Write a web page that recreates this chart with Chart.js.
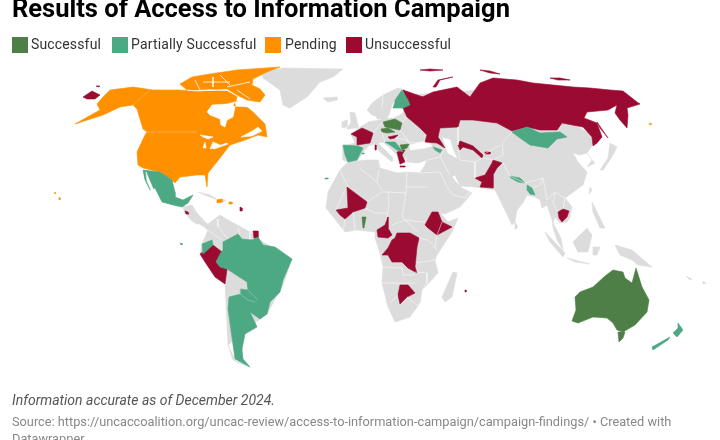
<!DOCTYPE html>
<html><head><meta charset="utf-8">
<script src="https://cdn.jsdelivr.net/npm/chart.js@4"></script>
<style>
html,body{margin:0;padding:0;background:#fff;overflow:hidden}
body{width:720px;height:440px;position:relative;font-family:Roboto,sans-serif}
canvas{position:absolute;left:0;top:0}
.t{position:absolute;white-space:nowrap}
#title{left:12px;top:-8px;font-size:25.5px;font-weight:700;color:#000;line-height:32px}
.sw{position:absolute;top:37px;width:16px;height:16px}
.lg{position:absolute;top:36px;font-size:14px;line-height:17px;color:#333;letter-spacing:.15px;white-space:nowrap}
#note{left:12px;top:391px;font-size:14px;font-style:italic;color:#555;line-height:18px}
#src{left:12px;top:413px;width:690px;white-space:normal;font-size:12.77px;color:#888;line-height:17px}
</style></head><body>
<canvas id="c" width="720" height="440"></canvas>
<div class="t" id="title">Results of Access to Information Campaign</div>
<div id="legend"></div>
<div class="t" id="note">Information accurate as of December 2024.</div>
<div class="t" id="src">Source: https://uncaccoalition.org/uncac-review/access-to-information-campaign/campaign-findings/ • Created with Datawrapper</div>
<script>
// Legend
const categories=["Successful","Partially Successful","Pending","Unsuccessful"];
const categoryColors=["#4d7f47","#4da884","#ff9000","#9b0a30"];
const noData="#dcdcdc";
// Map outlines, in map units
const eurasia=[[343,146],[343,160],[350,163],[357,161],[365,150],[368,146],[375,144],[380,152],[392,162],[393,158],[385,150],[378,143],[383,142],[390,148],[397,155],[400,165],[405,160],[407,152],[407,162],[418,163],[427,160],[425,165],[420,173],[423,182],[440,213],[445,214],[460,207],[472,193],[462,188],[457,183],[452,177],[455,175],[460,186],[475,187],[495,190],[500,200],[512,225],[515,222],[517,210],[523,203],[527,195],[535,197],[540,200],[542,208],[547,205],[552,220],[553,227],[557,240],[563,250],[561,238],[553,223],[555,217],[560,223],[567,222],[570,217],[572,207],[565,198],[572,193],[583,185],[587,172],[578,162],[573,153],[580,155],[587,153],[595,163],[587,167],[592,160],[587,153],[592,146],[593,137],[590,134],[575,125],[570,100],[480,90],[410,95],[405,108],[402,113],[392,118],[380,120],[368,122],[360,127],[351,134],[355,143]];
const scandinavia=[[367,110],[372,103],[383,95],[398,88],[405,90],[398,97],[392,105],[390,113],[385,122],[378,117],[372,115]];
const denmark=[[376,114],[380,113],[381,119],[377,119]];
const britain=[[350,112],[355,113],[358,125],[358,128],[347,129],[351,122]];
const ireland=[[342,122],[347,120],[347,127],[342,128]];
const iceland=[[323,98],[337,97],[337,100],[328,102]];
const greenland=[[262,72],[283,68],[343,69],[333,77],[320,82],[307,97],[290,108],[283,105],[280,90],[263,78]];
const africa=[[420,173],[423,180],[435,203],[442,215],[448,222],[458,218],[452,232],[437,255],[435,260],[438,273],[427,285],[422,290],[420,303],[410,317],[395,322],[388,307],[382,283],[383,267],[380,253],[375,238],[375,232],[357,230],[345,232],[330,213],[326,208],[328,192],[340,170],[348,162],[367,160],[378,160],[380,168],[397,173],[407,172]];
const madagascar=[[442,297],[453,272],[457,273],[452,297],[445,302]];
const southAmerica=[[197,222],[208,224],[220,215],[228,220],[250,232],[258,239],[292,259],[283,285],[267,314],[252,325],[228,345],[233,360],[250,367],[236,362],[228,345],[225,282],[200,254],[202,244],[208,230]];
const centralAmerica=[[183,207],[192,205],[197,213],[207,224],[197,224],[192,221],[185,213]];
const cuba=[[198,192],[210,195],[218,200],[207,196]];
const hispaniola=[[218,199],[226,200],[222,203],[218,202]];
const borneo=[[573,242],[587,228],[592,235],[588,252],[578,252]];
const sumatra=[[545,232],[565,253],[563,257],[550,242]];
const java=[[567,258],[590,264],[575,262]];
const sulawesi=[[593,247],[600,247],[597,255],[593,255]];
const papua=[[615,245],[632,250],[652,267],[638,265],[632,260],[620,255]];
const philippines=[[592,202],[596,210],[605,228],[600,228],[593,212]];
const japan=[[610,143],[617,147],[613,155],[603,170],[600,170],[608,158]];
const sriLanka=[[515,222],[518,227],[515,230]];
const taiwan=[[590,187],[592,190],[589,194]];
const solomon=[[686,276],[692,279],[690,280]];
const vanuatu=[[703,281],[706,283],[703,284]];
// Water cut out of the land
const blackSea=[[410,145],[427,141],[432,146],[425,148],[410,150]];
const caspian=[[443,138],[450,140],[453,150],[457,158],[448,153],[445,145]];
const hudsonBay=[[207,112],[212,105],[227,104],[235,102],[233,105],[235,107],[233,117],[227,120],[225,127],[221,125],[220,119],[210,115]];
const hudsonStrait=[[235,102],[247,104],[256,111],[248,107],[236,105]];
const superior=[[200,135],[213,137],[208,139],[203,137]];
const michigan=[[205,142],[206,148],[203,148]];
const huron=[[213,142],[220,145],[210,149]];
const erie=[[212,148],[227,143],[228,144],[214,149]];
const stLawrence=[[241,137],[254,130],[258,127],[262,131],[252,136]];
const gulfCalifornia=[[146,172],[154,191],[151,190],[147,181]];
const baltic=[[390,113],[392,108],[402,110],[402,113],[393,118]];
// Countries by result
const mainlandNA=[[110,90],[133,87],[153,90],[177,90],[197,91],[217,91],[227,91],[237,96],[235,107],[247,107],[253,112],[265,124],[267,137],[258,135],[245,140],[230,145],[220,158],[208,173],[207,187],[205,175],[197,175],[180,177],[175,183],[172,180],[160,172],[143,168],[138,165],[137,152],[145,135],[147,132],[143,129],[137,109],[133,105],[120,107],[103,115],[75,124],[100,110],[97,104],[103,97]];
const arctic=[[180,84],[192,77],[210,74],[237,70],[280,67],[267,72],[253,79],[252,85],[260,89],[265,95],[260,102],[247,100],[237,95],[227,89],[217,90],[210,89],[197,90],[187,90]];
const hawaiiA=[[54,192],[56,193],[55,194]];
const hawaiiB=[[59,197],[61,199],[59,200]];
const haiti=[[217,200],[222,199],[222,202],[217,203]];
const caribbean=[[229,202],[232,202],[232,204],[229,204]];
const aleutianFar=[[649,123],[652,124],[650,125]];
const russia=[[403,90],[423,97],[412,102],[433,92],[457,87],[470,97],[480,83],[493,78],[517,80],[533,83],[573,87],[590,88],[610,90],[623,91],[637,102],[640,104],[627,108],[628,115],[627,128],[620,120],[615,113],[617,105],[608,110],[587,112],[584,118],[597,123],[602,137],[597,143],[593,146],[592,137],[583,127],[562,123],[557,130],[540,130],[527,127],[512,131],[497,123],[473,120],[460,120],[458,127],[440,128],[438,137],[445,148],[437,143],[425,142],[427,135],[420,128],[413,122],[407,117],[403,108],[408,103]];
const chukotkaWest=[[83,97],[92,91],[100,95],[95,99],[87,99]];
const wrangel=[[96,86],[100,86],[99,87]];
const sakhalin=[[597,122],[608,138],[600,128]];
const novayaZemlya=[[433,87],[438,80],[453,77],[440,80],[436,87]];
const severnaya=[[480,70],[490,71],[500,74],[490,73]];
const franzJosef=[[420,70],[430,69],[443,70],[430,71]];
const newSiberia=[[550,78],[560,78],[570,80],[558,80]];
const france=[[351,134],[362,128],[373,133],[370,143],[357,145],[357,137]];
const corsica=[[375,145],[376,145],[376,150],[375,150]];
const hungary=[[388,137],[398,135],[395,138],[390,139]];
const greece=[[397,152],[405,150],[402,155],[405,162],[400,164]];
const crete=[[400,166],[405,166],[405,167],[400,167]];
const uzbekistan=[[458,145],[460,141],[468,144],[473,146],[483,155],[482,158],[473,150],[463,147],[460,150]];
const tajikNote=[[485,152],[490,152],[490,154],[485,154]];
const pakistan=[[475,178],[485,175],[492,163],[493,160],[502,163],[497,168],[493,175],[493,188],[480,187],[482,182]];
const cambodia=[[558,212],[563,209],[569,211],[567,217],[562,222],[559,218]];
const ethiopia=[[432,212],[438,212],[442,222],[452,227],[437,235],[428,228],[425,225]];
const mali=[[347,187],[367,202],[365,208],[353,212],[345,219],[340,215],[336,210],[348,208]];
const cameroon=[[388,217],[388,228],[392,235],[388,238],[378,237],[377,230],[385,225]];
const drCongo=[[397,233],[410,233],[419,238],[417,247],[415,267],[417,273],[408,268],[402,262],[392,262],[388,255],[382,255],[388,248],[392,240],[395,238]];
const botswana=[[400,285],[408,285],[415,293],[407,297],[400,304],[398,295]];
const mauritius=[[465,290],[466,290],[466,292],[465,292]];
const peru=[[200,254],[213,245],[222,252],[216,262],[227,269],[225,284],[215,277],[205,262]];
const suriname=[[253,231],[258,231],[258,238],[254,238]];
const nicaragua=[[185,211],[188,212],[189,214],[186,214]];
const lesserAntilles=[[240,207],[242,208],[242,211],[241,211]];
const spain=[[343,145],[358,146],[363,148],[357,160],[348,162],[345,155]];
const balearic=[[362,153],[364,153],[364,154],[362,154]];
const finland=[[395,100],[402,90],[408,100],[410,105],[403,108],[393,108],[395,102]];
const balkans=[[385,142],[395,142],[400,148],[403,152],[397,150],[390,145]];
const georgia=[[433,147],[442,150],[440,153],[435,150]];
const mongolia=[[512,132],[527,127],[540,133],[560,132],[567,137],[557,139],[548,148],[530,145],[520,138]];
const nepal=[[510,176],[520,178],[525,183],[518,182],[511,178]];
const bangladesh=[[527,185],[532,188],[535,195],[530,194],[527,190]];
const mexico=[[143,170],[160,172],[172,180],[175,192],[175,197],[183,200],[193,195],[188,203],[182,207],[173,205],[162,202],[155,188],[150,190],[145,180]];
const brazil=[[223,242],[238,234],[242,239],[252,240],[258,237],[263,245],[275,247],[292,259],[283,280],[280,292],[270,302],[267,314],[260,319],[250,312],[258,300],[248,290],[247,282],[227,269],[220,267],[216,262],[220,254],[223,250]];
const ecuador=[[202,244],[212,240],[213,245],[203,254]];
const galapagos=[[180,243],[183,244],[181,245]];
const canaries=[[325,178],[328,178],[328,179],[325,179]];
const argentina=[[240,289],[248,290],[258,300],[250,312],[257,327],[245,334],[242,349],[243,359],[250,367],[235,359],[228,309],[229,297],[240,294]];
const newZealandN=[[678,323],[683,330],[677,337],[673,333],[678,328]];
const newZealandS=[[670,337],[668,340],[653,350],[652,347]];
const poland=[[383,122],[395,119],[402,123],[400,130],[390,128],[385,127]];
const czechAustria=[[381,129],[388,128],[395,132],[387,133],[382,132]];
const bulgaria=[[400,145],[409,144],[407,148],[402,150]];
const benin=[[362,217],[366,217],[364,228],[363,228]];
const australia=[[575,297],[580,292],[593,287],[605,276],[613,270],[623,272],[625,278],[632,283],[636,268],[642,287],[649,300],[647,312],[635,325],[623,332],[617,330],[613,323],[607,318],[593,317],[578,323],[572,321],[576,310]];
const tasmania=[[618,332],[625,332],[623,338],[619,342]];
// Thin borders
const waterLines=[
 [[187,90],[197,91],[217,90],[227,90],[237,96]],[[220,75],[230,85]],[[203,82],[230,82]],[[227,87],[250,82]],[[213,77],[213,87]],[[237,90],[250,99]],[[195,80],[200,90]]
];
const lightLines=[[[133,105],[150,90]],[[145,132],[197,132]],[[230,295],[240,294],[248,300],[255,302]],[[240,289],[240,294]],[[248,290],[258,300]]];
const grayLines=[
 [[379,170],[377,182],[382,190]],[[367,202],[382,192],[388,192],[389,205],[387,217]],[[407,172],[406,193]],[[388,192],[406,193]],[[406,187],[428,187]],[[406,193],[402,217],[405,220]],[[405,220],[425,222]],[[392,225],[405,220],[417,232]],[[365,208],[375,213],[388,213]],[[345,219],[343,232]],[[353,212],[355,230]],[[383,267],[402,268],[403,275],[415,275]],[[382,283],[398,283],[415,283]],[[398,295],[390,303]],[[407,297],[417,305],[420,303]],[[419,238],[428,240],[437,250]],[[435,260],[417,263]],[[415,272],[427,273],[427,283],[422,290]],[[442,222],[437,235],[435,248]],[[340,170],[348,187]],[[336,210],[345,190]],[[377,182],[360,168]],
 [[217,219],[218,227],[228,239]],[[238,227],[240,235]],[[250,232],[250,239]],[[208,230],[222,240]],
 [[512,132],[502,143],[503,155],[493,160]],[[503,163],[510,176],[525,183],[537,180],[543,178],[547,200]],[[532,188],[540,185],[543,178]],[[547,200],[555,192],[565,198]],[[555,192],[553,203],[558,212]],[[565,198],[563,209]],[[440,157],[450,175]],[[460,160],[475,162],[475,178]],[[475,162],[483,158],[493,160]],[[458,150],[460,160]],[[440,172],[447,187],[453,195],[465,198],[473,188]],[[587,153],[595,163]],[[427,160],[440,157],[445,148]],[[458,127],[458,145]],[[483,155],[500,145]],[[420,173],[440,172]],
 [[373,133],[383,122]],[[383,95],[382,108]],[[402,123],[407,117]],[[400,130],[410,143],[425,142]],[[385,142],[382,132]],[[395,138],[407,140],[409,144]],[[355,129],[368,122]]
];
const groups=[
 {color:noData,shapes:[eurasia,scandinavia,denmark,britain,ireland,iceland,greenland,africa,madagascar,southAmerica,centralAmerica,cuba,hispaniola,borneo,sumatra,java,sulawesi,papua,philippines,japan,sriLanka,taiwan,solomon,vanuatu]},
 {color:"#ffffff",shapes:[blackSea,caspian,baltic]},
 {color:categoryColors[2],shapes:[mainlandNA,arctic,hawaiiA,hawaiiB,haiti,caribbean,aleutianFar]},
 {color:"#ffffff",shapes:[hudsonBay,hudsonStrait,superior,michigan,huron,erie,stLawrence]},
 {color:categoryColors[3],shapes:[russia,chukotkaWest,wrangel,sakhalin,novayaZemlya,severnaya,franzJosef,newSiberia,france,corsica,hungary,greece,crete,uzbekistan,tajikNote,pakistan,cambodia,ethiopia,mali,cameroon,drCongo,botswana,mauritius,peru,suriname,nicaragua,lesserAntilles]},
 {color:categoryColors[1],shapes:[spain,balearic,finland,balkans,georgia,mongolia,nepal,bangladesh,mexico,brazil,ecuador,galapagos,canaries,argentina,newZealandN,newZealandS]},
 {color:"#ffffff",shapes:[gulfCalifornia]},
 {color:categoryColors[0],shapes:[poland,czechAustria,bulgaria,benin,australia,tasmania]}
];
const toPts=s=>s.map(p=>({x:p[0],y:p[1]}));
const datasets=[];
groups.forEach(g=>g.shapes.forEach(s=>datasets.push({data:toPts(s.concat([s[0]])),showLine:true,fill:'shape',backgroundColor:g.color,borderColor:g.color,borderWidth:.6,pointRadius:0,tension:0})));
grayLines.forEach(l=>datasets.push({data:toPts(l),showLine:true,fill:false,borderColor:'rgba(255,255,255,.85)',borderWidth:.6,pointRadius:0}));
waterLines.forEach(l=>datasets.push({data:toPts(l),showLine:true,fill:false,borderColor:'#ffffff',borderWidth:.8,pointRadius:0}));
lightLines.forEach(l=>datasets.push({data:toPts(l),showLine:true,fill:false,borderColor:'rgba(255,255,255,.4)',borderWidth:.6,pointRadius:0}));
datasets.reverse(); // Chart.js paints the first dataset last

new Chart(document.getElementById('c'),{type:'scatter',data:{datasets},options:{
 responsive:false,animation:false,events:[],layout:{padding:0},
 plugins:{legend:{display:false},tooltip:{enabled:false},title:{display:false}},
 scales:{x:{type:'linear',display:false,min:0,max:720},y:{type:'linear',display:false,min:0,max:440,reverse:true}}
}});
const legendX=[12,112,265,346],legendTextX=[31,131,285,365];
const lg=document.getElementById('legend');
categories.forEach((c,i)=>{
 const s=document.createElement('div');s.className='sw';s.style.left=legendX[i]+'px';s.style.background=categoryColors[i];lg.appendChild(s);
 const t=document.createElement('div');t.className='lg';t.style.left=legendTextX[i]+'px';t.textContent=c;lg.appendChild(t);
});
</script>
</body></html>
